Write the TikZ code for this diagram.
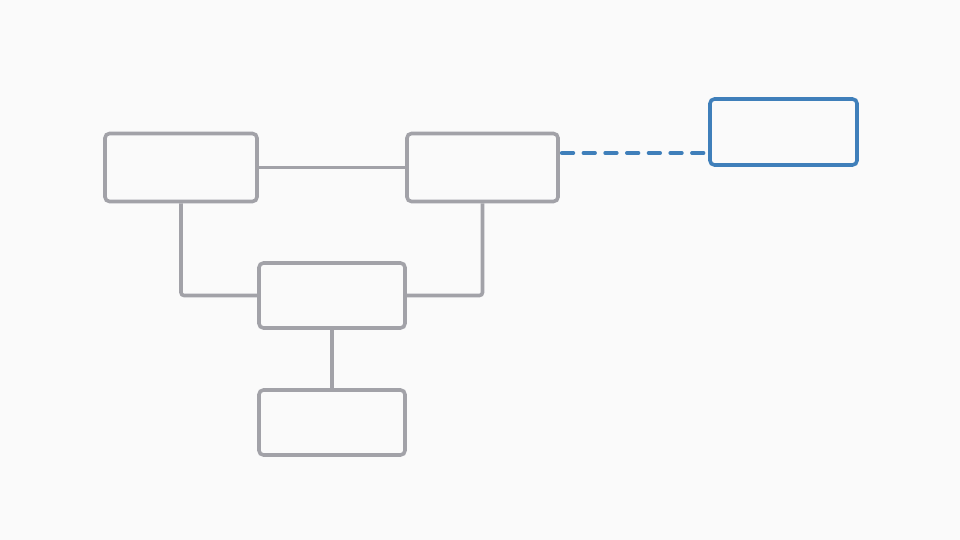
\documentclass[tikz,border=0pt]{standalone}
\definecolor{bg}{HTML}{FAFAFA}
\definecolor{boxgray}{HTML}{A2A2A8}
\definecolor{boxblue}{HTML}{3F7FBA}
\begin{document}
\begin{tikzpicture}[x=1pt,y=-1pt,
  box/.style={draw=boxgray, line width=3.6pt, rounded corners=4.5pt, fill=bg, inner sep=0pt},
  bluebox/.style={box, draw=boxblue},
  link/.style={draw=boxgray, line width=3.6pt},
  bluelink/.style={draw=boxblue, line width=3.8pt, dash pattern=on 11.5pt off 10.2pt, line cap=round}]
\fill[bg] (0,0) rectangle (960,540);
\useasboundingbox (0,0) rectangle (960,540);
\node[box, minimum width=152pt, minimum height=68pt] (A) at (181,167.5) {};
\node[box, minimum width=151pt, minimum height=68pt] (B) at (482.5,167.5) {};
\node[box, minimum width=146pt, minimum height=65pt] (C) at (332,295.5) {};
\node[box, minimum width=146pt, minimum height=65pt] (D) at (332,422.5) {};
\node[bluebox, minimum width=147pt, minimum height=66pt] (E) at (783.5,132) {};
\draw[link] (A.east) -- (B.west);
\draw[link, rounded corners=3pt] (A.south) -- (A.south |- C.west) -- (C.west);
\draw[link, rounded corners=3pt] (B.south) -- (B.south |- C.east) -- (C.east);
\draw[link] (C.south) -- (D.north);
\draw[bluelink] ([xshift=2pt]B.east |- 0,153) -- (E.west |- 0,153);
\end{tikzpicture}
\end{document}
